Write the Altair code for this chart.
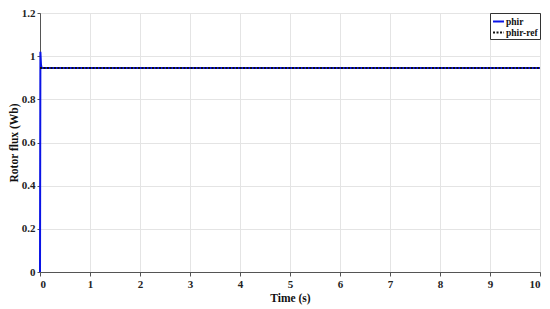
import altair as alt
import pandas as pd

# phir (measured rotor flux) trace
t_phir = [0.0, 0.004, 0.008, 0.012, 0.02, 0.03, 0.05, 10.0]
v_phir = [0.0, 0.55, 1.02, 1.0, 0.96, 0.948, 0.945, 0.945]
# phir-ref trace
t_ref = [0.0, 10.0]
v_ref = [0.945, 0.945]

x_ticks = [0, 1, 2, 3, 4, 5, 6, 7, 8, 9, 10]
y_ticks = [0, 0.2, 0.4, 0.6, 0.8, 1.0, 1.2]

df = pd.concat([
    pd.DataFrame({"t": t_phir, "v": v_phir, "s": "phir", "o": range(len(t_phir))}),
    pd.DataFrame({"t": t_ref, "v": v_ref, "s": "phir-ref", "o": range(len(t_ref))}),
])

FONT = "Liberation Serif"

chart = alt.Chart(df).mark_line(strokeWidth=2).encode(
    x=alt.X("t:Q", scale=alt.Scale(domain=[0, 10], nice=False),
            axis=alt.Axis(title="Time (s)", values=x_ticks, format="d",
                          grid=True, tickSize=4, labelOverlap=False)),
    y=alt.Y("v:Q", scale=alt.Scale(domain=[0, 1.2], nice=False),
            axis=alt.Axis(title="Rotor flux (Wb)", values=y_ticks,
                          format=".1~f", grid=True, tickSize=3, labelOverlap=False)),
    color=alt.Color("s:N", scale=alt.Scale(domain=["phir", "phir-ref"], range=["#0a14e6", "#111111"]),
                    legend=alt.Legend(title=None, orient="top-right", offset=0,
                                      symbolType="stroke", symbolStrokeWidth=2, symbolSize=120,
                                      labelFont=FONT, labelFontWeight="bold", labelFontSize=9.5,
                                      labelColor="#111", fillColor="white", strokeColor="#333",
                                      padding=2, rowPadding=0, symbolOffset=0, labelOffset=1)),
    strokeDash=alt.StrokeDash("s:N", scale=alt.Scale(domain=["phir", "phir-ref"], range=[[1, 0], [2, 1.5]]),
                              legend=alt.Legend(title=None, orient="top-right")),
    order="o:Q",
).properties(
    width=500, height=259,
    autosize=alt.AutoSizeParams(type="none"),
    padding={"left": 32, "top": 5, "right": 2, "bottom": 35},
).configure_view(
    stroke="#444", strokeWidth=1
).configure_axis(
    labelFont=FONT, labelFontWeight="bold", labelFontSize=11, labelColor="#222",
    titleFont=FONT, titleFontWeight="bold", titleFontSize=11.5, titleColor="#111",
    domainColor="#555", tickColor="#555", gridColor="#e4e4e4", gridWidth=1,
).configure_axisY(titlePadding=2, labelPadding=2).configure_axisX(titlePadding=3, labelPadding=2)

chart.save("out.html", embed_options={"renderer": "svg", "actions": False})
